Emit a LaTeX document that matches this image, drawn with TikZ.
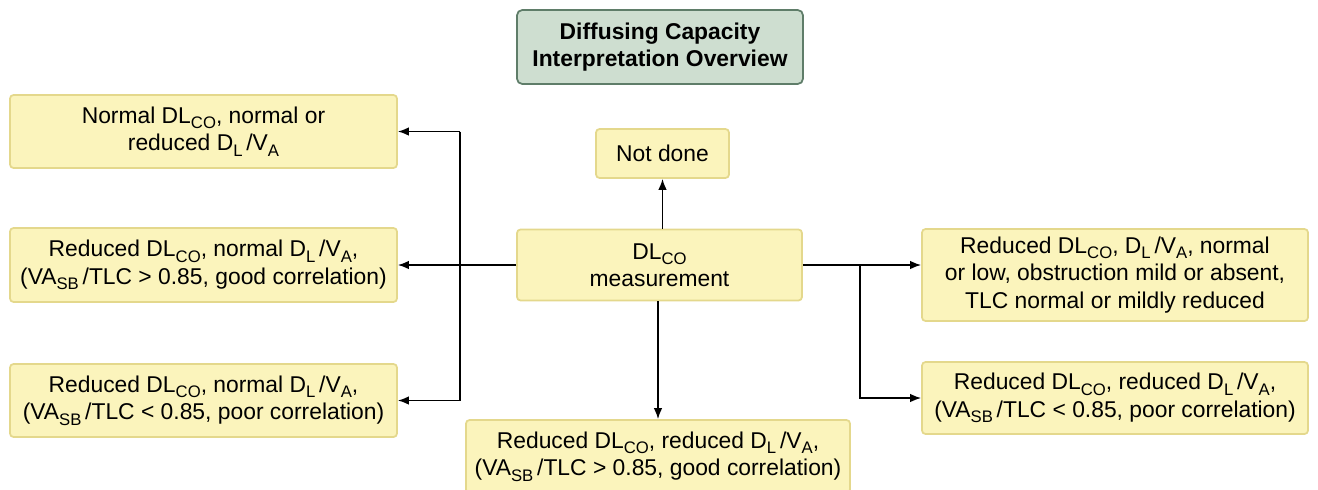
\documentclass[tikz,border=0pt]{standalone}
\usepackage{fontspec}
\setmainfont{Liberation Sans}
\usetikzlibrary{arrows.meta}

\definecolor{boxfill}{RGB}{251,244,188}
\definecolor{boxline}{RGB}{228,216,140}
\definecolor{titlefill}{RGB}{206,222,208}
\definecolor{titleline}{RGB}{95,125,105}
\newcommand{\sbs}[1]{\raisebox{-0.45ex}{\fontsize{9.5}{9.5}\selectfont #1}}

\tikzset{
    resultbox/.style={draw=boxline, fill=boxfill, line width=1pt, rounded corners=2pt,
        align=center, inner sep=1pt, font=\fontsize{13}{15.6}\selectfont},
    titlebox/.style={draw=titleline, fill=titlefill, line width=1pt, rounded corners=3pt,
        align=center, font=\fontsize{13}{15.4}\selectfont\bfseries},
    arr/.style={line width=0.8pt, -{Latex[length=2.2mm,width=1.7mm]}}
}

\begin{document}
\begin{tikzpicture}
        \useasboundingbox (0,0) rectangle (26.36,-9.78);

        % Title
        \node[titlebox, minimum width=5.72cm, minimum height=1.48cm] (title) at (13.20,-0.94)
            {Diffusing Capacity\\Interpretation Overview};

        % Centre node and the one above it
        \node[resultbox, minimum width=5.70cm, minimum height=1.42cm] (meas) at (13.19,-5.30)
            {DL\sbs{CO}\\measurement};
        \node[resultbox, minimum width=2.66cm, minimum height=0.98cm] (notdone) at (13.25,-3.07)
            {Not done};

        % Left column
        \node[resultbox, minimum width=7.74cm, minimum height=1.46cm] (normal) at (4.07,-2.63)
            {Normal DL\sbs{CO}, normal or\\reduced D\sbs{L}\,/V\sbs{A}};
        \node[resultbox, minimum width=7.74cm, minimum height=1.48cm] (goodnormal) at (4.07,-5.30)
            {Reduced DL\sbs{CO}, normal D\sbs{L}\,/V\sbs{A},\\(VA\sbs{SB}\,/TLC > 0.85, good correlation)};
        \node[resultbox, minimum width=7.74cm, minimum height=1.46cm] (poornormal) at (4.07,-8.01)
            {Reduced DL\sbs{CO}, normal D\sbs{L}\,/V\sbs{A},\\(VA\sbs{SB}\,/TLC < 0.85, poor correlation)};

        % Bottom
        \node[resultbox, minimum width=7.68cm, minimum height=1.46cm] (goodreduced) at (13.16,-9.13)
            {Reduced DL\sbs{CO}, reduced D\sbs{L}\,/V\sbs{A},\\(VA\sbs{SB}\,/TLC > 0.85, good correlation)};

        % Right column
        \node[resultbox, minimum width=7.72cm, minimum height=1.84cm] (mild) at (22.30,-5.50)
            {Reduced DL\sbs{CO}, D\sbs{L}\,/V\sbs{A}, normal\\or low, obstruction mild or absent,\\TLC normal or mildly reduced};
        \node[resultbox, minimum width=7.72cm, minimum height=1.44cm] (poorreduced) at (22.30,-7.96)
            {Reduced DL\sbs{CO}, reduced D\sbs{L}\,/V\sbs{A},\\(VA\sbs{SB}\,/TLC < 0.85, poor correlation)};

        % Branch points
        \coordinate (lbus) at (9.20,-5.30);
        \coordinate (rbus) at (17.20,-5.30);

        % Up and down
        \draw[arr] (meas.north -| notdone.south) -- (notdone.south);
        \draw[arr] (meas.south -| goodreduced.north) -- (goodreduced.north);

        % Left side
        \draw[arr] (meas.west) -- (goodnormal.east);
        \draw[line width=0.8pt] (lbus |- normal.east) -- (lbus |- poornormal.east);
        \draw[arr] (lbus |- normal.east) -- (normal.east);
        \draw[arr] (lbus |- poornormal.east) -- (poornormal.east);

        % Right side
        \draw[arr] (meas.east) -- (meas.east -| mild.west);
        \draw[arr] (rbus) |- (poorreduced.west);
    \end{tikzpicture}
\end{document}
